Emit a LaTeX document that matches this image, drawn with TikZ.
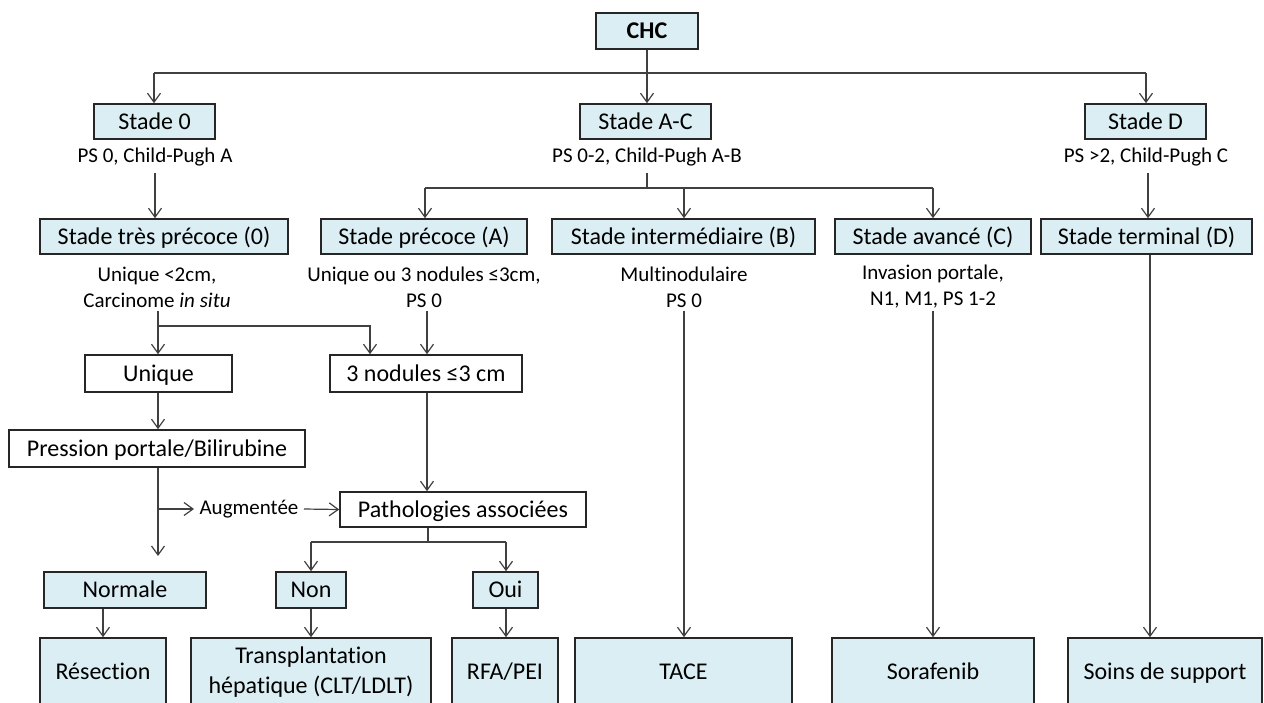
\documentclass[tikz,border=0pt]{standalone}
\usepackage{fontspec}
\setmainfont{Carlito}[Ligatures={NoCommon}]
\usetikzlibrary{arrows.meta}
\definecolor{bluefill}{HTML}{DAEEF3}
\definecolor{boxc}{HTML}{262626}
\definecolor{linec}{HTML}{404040}
\newcommand{\mainf}{\fontsize{24}{30}\selectfont}
\newcommand{\smallf}{\fontsize{21}{26}\selectfont}
\tikzset{
  bbox/.style={draw=boxc, line width=1.6pt, fill=bluefill, inner sep=0pt, font=\mainf, text height=18pt, text depth=2.5pt},
  wbox/.style={bbox, fill=white},
  mbox/.style={draw=boxc, line width=1.6pt, fill=bluefill, inner sep=0pt, font=\mainf, align=center},
  lbl/.style={inner sep=0pt, font=\smallf, align=center},
  conn/.style={draw=linec, line width=1.2pt},
  arr/.style={conn, -{Straight Barb[length=9pt,width=13pt,line width=1.2pt]}},
}
\begin{document}
\begin{tikzpicture}[x=1pt,y=-1pt]
\useasboundingbox (0,0) rectangle (1264,702);
\clip (0,0) rectangle (1264,702);
% level 0
\node[bbox, minimum width=102pt, minimum height=36pt, font=\mainf\bfseries] (chc) at (647,31) {CHC};
% level 1
\node[bbox, minimum width=121pt, minimum height=35pt] (s0) at (154.5,121.5) {Stade 0};
\node[bbox, minimum width=131pt, minimum height=35pt] (sac) at (645.5,121.5) {Stade A-C};
\node[bbox, minimum width=121pt, minimum height=35pt] (sd) at (1145.5,121.5) {Stade D};
\node[lbl] (t0) at (155,157) {PS 0, Child-Pugh A};
\node[lbl] (tac) at (647,157) {PS 0-2, Child-Pugh A-B};
\node[lbl] (td) at (1146,157) {PS >2, Child-Pugh C};
% level 2
\node[bbox, minimum width=248pt, minimum height=35pt] (r0) at (164,236.5) {Stade très précoce (0)};
\node[bbox, minimum width=206pt, minimum height=35pt] (rA) at (424,236.5) {Stade précoce (A)};
\node[bbox, minimum width=263pt, minimum height=35pt] (rB) at (683.5,236.5) {Stade intermédiaire (B)};
\node[bbox, minimum width=196pt, minimum height=35pt] (rC) at (933,236.5) {Stade avancé (C)};
\node[bbox, minimum width=211pt, minimum height=35pt] (rD) at (1146.5,236.5) {Stade terminal (D)};
\node[lbl] (u0) at (157,287) {Unique <2cm,\\Carcinome \textit{in situ}};
\node[lbl] (uA) at (424,287) {Unique ou 3 nodules ≤3cm,\\PS 0};
\node[lbl] (uB) at (684,287) {Multinodulaire\\PS 0};
\node[lbl] (uC) at (933,287) {Invasion portale,\\N1, M1, PS 1-2};
% level 3
\node[wbox, minimum width=147pt, minimum height=37pt] (uni) at (158.5,373.5) {Unique};
\node[wbox, minimum width=192pt, minimum height=37pt] (nod) at (426,373.5) {3 nodules ≤3 cm};
\node[wbox, minimum width=296pt, minimum height=37pt] (pre) at (157,448.5) {Pression portale/Bilirubine};
\node[wbox, minimum width=246pt, minimum height=35pt] (pat) at (463,509.5) {Pathologies associées};
\node[lbl] (aug) at (249,509) {Augmentée};
% level 4
\node[bbox, minimum width=162pt, minimum height=36pt] (nor) at (125,590) {Normale};
\node[bbox, minimum width=70pt, minimum height=36pt] (non) at (311,590) {Non};
\node[bbox, minimum width=65pt, minimum height=36pt] (oui) at (505.5,590) {Oui};
% bottom
\node[bbox, minimum width=126pt, minimum height=68pt] (res) at (103,672) {Résection};
\node[mbox, minimum width=240pt, minimum height=68pt] (tra) at (311,672) {Transplantation\\hépatique (CLT/LDLT)};
\node[bbox, minimum width=106pt, minimum height=68pt] (rfa) at (505,672) {RFA/PEI};
\node[bbox, minimum width=217pt, minimum height=68pt] (tac2) at (683.5,672) {TACE};
\node[bbox, minimum width=202pt, minimum height=68pt] (sor) at (933,672) {Sorafenib};
\node[bbox, minimum width=194pt, minimum height=68pt] (soi) at (1165,672) {Soins de support};
% coordinates
\coordinate (j0) at (647,73);
\coordinate (jl) at (154,73);
\coordinate (jr) at (1146,73);
\coordinate (a0) at (155,173);
\coordinate (aac) at (647,173);
\coordinate (jac) at (647,188);
\coordinate (jA) at (425,188);
\coordinate (jB) at (684,188);
\coordinate (jC) at (933,188);
\coordinate (ad) at (1148,173);
\coordinate (b0) at (158,311);
\coordinate (k0) at (158,326);
\coordinate (k1) at (370,326);
\coordinate (bA) at (427,311);
\coordinate (bB) at (684,311);
\coordinate (bC) at (933,311);
\coordinate (pend) at (158,556);
\coordinate (k2) at (158,509);
\coordinate (k3) at (194,509);
\coordinate (k4) at (304,509);
\coordinate (k5) at (428,542);
\coordinate (kn) at (311,542);
\coordinate (ko) at (506,542);
\coordinate (kd) at (1150,0);
% connectors
\draw[conn] (chc.south) -- (j0);
\draw[conn] (jl) -- (jr);
\draw[arr] (jl) -- (jl |- s0.north);
\draw[arr] (j0) -- (j0 |- sac.north);
\draw[arr] (jr) -- (jr |- sd.north);
\draw[arr] (a0) -- (a0 |- r0.north);
\draw[conn] (aac) -- (jac);
\draw[conn] (jA) -- (jC);
\draw[arr] (jA) -- (jA |- rA.north);
\draw[arr] (jB) -- (jB |- rB.north);
\draw[arr] (jC) -- (jC |- rC.north);
\draw[arr] (ad) -- (ad |- rD.north);
\draw[arr] (b0) -- (b0 |- uni.north);
\draw[arr] (k0) -- (k1) -- (k1 |- nod.north);
\draw[arr] (bA) -- (bA |- nod.north);
\draw[arr] (uni.south -| k0) -- (k0 |- pre.north);
\draw[arr] (nod.south -| bA) -- (bA |- pat.north);
\draw[arr] (pre.south -| k2) -- (pend);
\draw[arr] (k2) -- (k3);
\draw[arr] (k4) -- (pat.west);
\draw[conn] (pat.south -| k5) -- (k5);
\draw[conn] (kn) -- (ko);
\draw[arr] (kn) -- (non.north);
\draw[arr] (ko) -- (ko |- oui.north);
\draw[arr] (nor.south -| res) -- (res.north);
\draw[arr] (non.south) -- (tra.north);
\draw[arr] (oui.south -| ko) -- (ko |- rfa.north);
\draw[arr] (bB) -- (bB |- tac2.north);
\draw[arr] (bC) -- (bC |- sor.north);
\draw[arr] (rD.south -| kd) -- (kd |- soi.north);
\end{tikzpicture}
\end{document}
